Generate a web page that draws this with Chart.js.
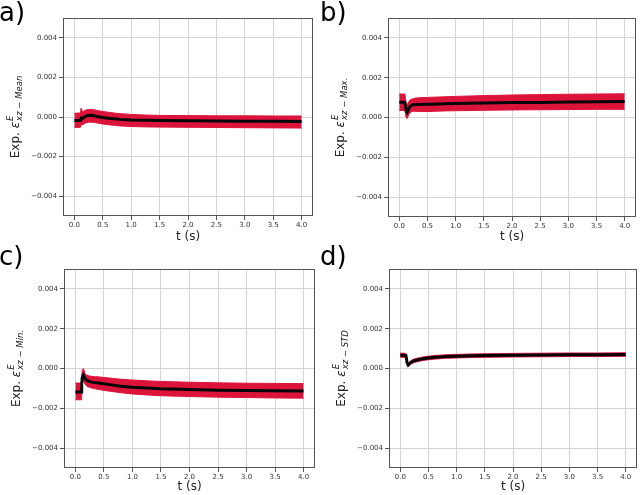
<!DOCTYPE html>
<html><head><meta charset="utf-8">
<script src="https://cdn.jsdelivr.net/npm/chart.js@4/dist/chart.umd.min.js"></script>
<style>
body{margin:0;background:#fff;}
#wrap{position:relative;width:640px;height:495px;overflow:hidden;background:#fff;}
canvas{position:absolute;}
</style></head><body>
<div id="wrap">
<canvas id="ca" width="320" height="245" style="left:0;top:0"></canvas>
<canvas id="cb" width="320" height="245" style="left:320px;top:0"></canvas>
<canvas id="cc" width="320" height="250" style="left:0;top:245px"></canvas>
<canvas id="cd" width="320" height="250" style="left:320px;top:245px"></canvas>
</div>
<script>
// time (s)
const timeS = [0, 0.05, 0.10, 0.11, 0.12, 0.14, 0.17, 0.20, 0.25, 0.30, 0.35, 0.40, 0.50, 0.60, 0.70, 0.80, 1.00, 1.25, 1.50, 2.00, 2.50, 3.00, 3.50, 4.00];

// a) Mean
const meanA = [-0.00018,-0.00018,-0.00017,-0.00012,-0.00005,-0.00008,-0.00002,0.00004,0.00008,0.00009,0.00006,0.00003,-0.00002,-0.00006,-0.00009,-0.00012,-0.00015,-0.00017,-0.00018,-0.00019,-0.00020,-0.00021,-0.00022,-0.00023];
const lowA  = [-0.00052,-0.00053,-0.00052,-0.00045,-0.00040,-0.00040,-0.00035,-0.00030,-0.00026,-0.00026,-0.00028,-0.00030,-0.00035,-0.00039,-0.00042,-0.00045,-0.00048,-0.00050,-0.00051,-0.00052,-0.00053,-0.00054,-0.00055,-0.00056];
const highA = [0.00018,0.00020,0.00020,0.00030,0.00045,0.00028,0.00030,0.00035,0.00038,0.00038,0.00036,0.00033,0.00028,0.00024,0.00020,0.00017,0.00013,0.00010,0.00008,0.00007,0.00006,0.00006,0.00005,0.00005];

// b) Max.
const meanB = [0.00077,0.00077,0.00076,0.00060,0.00035,0.00026,0.00045,0.00058,0.00064,0.00065,0.00065,0.00065,0.00066,0.00067,0.00068,0.00069,0.00070,0.00072,0.00073,0.00075,0.00076,0.00078,0.00079,0.00080];
const lowB  = [0.00035,0.00035,0.00035,0.00020,0.00000,-0.00005,0.00015,0.00027,0.00031,0.00031,0.00030,0.00030,0.00030,0.00031,0.00032,0.00033,0.00034,0.00035,0.00036,0.00038,0.00039,0.00040,0.00041,0.00041];
const highB = [0.00118,0.00118,0.00118,0.00095,0.00070,0.00065,0.00080,0.00090,0.00095,0.00098,0.00099,0.00100,0.00101,0.00102,0.00103,0.00104,0.00106,0.00108,0.00110,0.00113,0.00115,0.00117,0.00118,0.00119];

// c) Min.
const meanC = [-0.00118,-0.00118,-0.00118,-0.00080,-0.00045,-0.00034,-0.00050,-0.00060,-0.00066,-0.00069,-0.00071,-0.00073,-0.00077,-0.00081,-0.00085,-0.00089,-0.00094,-0.00098,-0.00102,-0.00106,-0.00109,-0.00111,-0.00112,-0.00113];
const lowC  = [-0.00157,-0.00157,-0.00157,-0.00120,-0.00075,-0.00062,-0.00078,-0.00089,-0.00095,-0.00099,-0.00102,-0.00105,-0.00110,-0.00114,-0.00118,-0.00122,-0.00128,-0.00133,-0.00137,-0.00141,-0.00144,-0.00146,-0.00148,-0.00149];
const highC = [-0.00073,-0.00073,-0.00073,-0.00040,-0.00010,0.00000,-0.00025,-0.00034,-0.00038,-0.00040,-0.00041,-0.00042,-0.00045,-0.00048,-0.00051,-0.00054,-0.00058,-0.00062,-0.00065,-0.00069,-0.00072,-0.00074,-0.00075,-0.00076];

// d) STD
const meanD = [0.00066,0.00066,0.00065,0.00050,0.00030,0.00018,0.00026,0.00033,0.00039,0.00043,0.00046,0.00049,0.00053,0.00056,0.00058,0.00060,0.00062,0.00064,0.00065,0.00067,0.00068,0.00069,0.00069,0.00070];
const lowD  = [0.00056,0.00056,0.00055,0.00040,0.00020,0.00010,0.00017,0.00024,0.00030,0.00034,0.00037,0.00040,0.00044,0.00047,0.00049,0.00051,0.00053,0.00055,0.00056,0.00058,0.00059,0.00060,0.00060,0.00061];
const highD = [0.00077,0.00077,0.00076,0.00060,0.00040,0.00027,0.00035,0.00042,0.00048,0.00052,0.00055,0.00058,0.00062,0.00065,0.00067,0.00069,0.00071,0.00073,0.00074,0.00076,0.00077,0.00078,0.00078,0.00079];

// axes / ticks
const xMin = -0.2, xMax = 4.2;
const xTickValues = [0, 0.5, 1.0, 1.5, 2.0, 2.5, 3.0, 3.5, 4.0];
const yMin = -0.005, yMax = 0.005;
const yTickValues = [-0.004, -0.002, 0, 0.002, 0.004];
const xTitle = 't (s)';
const panelLetters = ['a)', 'b)', 'c)', 'd)'];
const ySubscripts = ['xz − Mean', 'xz − Max.', 'xz − Min.', 'xz − STD'];

Chart.defaults.font.family = 'DejaVu Sans';
const FAM = 'DejaVu Sans';

function decoPlugin(idx, g) {
  return {
    id: 'deco' + idx,
    afterDraw(chart) {
      const ctx = chart.ctx, a = chart.chartArea;
      ctx.save();
      ctx.strokeStyle = '#555';
      ctx.lineWidth = 1;
      ctx.strokeRect(Math.round(a.left) + 0.5, Math.round(a.top) + 0.5,
                     Math.round(a.right - a.left) - 1, Math.round(a.bottom - a.top) - 1);
      ctx.fillStyle = '#000';
      ctx.font = '26px ' + FAM;
      ctx.textBaseline = 'alphabetic';
      ctx.textAlign = 'left';
      ctx.fillText(panelLetters[idx], g.lx, g.ly);
      ctx.translate(a.left - 44, (a.top + a.bottom) / 2);
      ctx.rotate(-Math.PI / 2);
      ctx.fillStyle = '#222';
      const f1 = '12px ' + FAM, f2 = 'italic 12px ' + FAM, f3 = 'italic 8.5px ' + FAM;
      ctx.font = f1; const w1 = ctx.measureText('Exp. ').width;
      ctx.font = f2; const w2 = ctx.measureText('ε').width;
      ctx.font = f3; const w3 = ctx.measureText(ySubscripts[idx]).width;
      const w4 = ctx.measureText('E').width;
      const total = w1 + w2 + 1 + Math.max(w3, w4);
      let x = -total / 2;
      ctx.font = f1; ctx.fillText('Exp. ', x, 0); x += w1;
      ctx.font = f2; ctx.fillText('ε', x, 0); x += w2 + 1;
      ctx.font = f3;
      ctx.fillText('E', x, -6);
      ctx.fillText(ySubscripts[idx], x, 3);
      ctx.restore();
    }
  };
}

function buildChart(id, idx, mean, lo, hi, g) {
  const pts = arr => timeS.map((t, i) => ({ x: t, y: arr[i] }));
  new Chart(document.getElementById(id), {
    type: 'line',
    data: {
      datasets: [
        { data: pts(mean), borderColor: '#060608', borderWidth: 3, pointRadius: 0, fill: false, tension: 0 },
        { data: pts(hi), borderColor: '#dc143c', borderWidth: 1, backgroundColor: '#dc143c', pointRadius: 0, fill: '+1', tension: 0 },
        { data: pts(lo), borderColor: '#dc143c', borderWidth: 1, pointRadius: 0, fill: false, tension: 0 }
      ]
    },
    options: {
      responsive: false,
      animation: false,
      events: [],
      layout: { padding: { left: 0, right: g.r, top: g.t, bottom: 0 } },
      plugins: { legend: { display: false }, tooltip: { enabled: false } },
      scales: {
        x: {
          type: 'linear', min: xMin, max: xMax,
          afterBuildTicks(s) { s.ticks = xTickValues.map(v => ({ value: v })); },
          afterFit(s) { s.height = g.h; },
          ticks: { autoSkip: false, maxRotation: 0,
                   font: { size: 7 }, color: '#333', padding: 1,
                   callback: v => v.toFixed(1) },
          grid: { color: '#d4d4d4', lineWidth: 1, tickColor: '#555', tickLength: 4 },
          border: { display: false },
          title: { display: true, text: xTitle, color: '#222', font: { size: 12 }, padding: { top: 0, bottom: 1 } }
        },
        y: {
          type: 'linear', min: yMin, max: yMax,
          afterBuildTicks(s) { s.ticks = yTickValues.map(v => ({ value: v })); },
          afterFit(s) { s.width = g.l; },
          ticks: { autoSkip: false,
                   font: { size: 7 }, color: '#333', padding: 2,
                   callback: v => (Math.abs(v) < 1e-9 ? '0.000' : (v < 0 ? '−' : '') + Math.abs(v).toFixed(3)) },
          grid: { color: '#d4d4d4', lineWidth: 1, tickColor: '#555', tickLength: 4 },
          border: { display: false }
        }
      }
    },
    plugins: [decoPlugin(idx, g)]
  });
}

buildChart('ca', 0, meanA, lowA, highA, { l: 63, r: 7, t: 18, h: 29, lx: -1, ly: 21 });
buildChart('cb', 1, meanB, lowB, highB, { l: 68, r: 4, t: 18, h: 28, lx: 0, ly: 21 });
buildChart('cc', 2, meanC, lowC, highC, { l: 64, r: 5, t: 24, h: 27, lx: -1, ly: 19.5 });
buildChart('cd', 3, meanD, lowD, highD, { l: 69, r: 3, t: 24, h: 27, lx: 0, ly: 20 });
</script>
</body></html>
